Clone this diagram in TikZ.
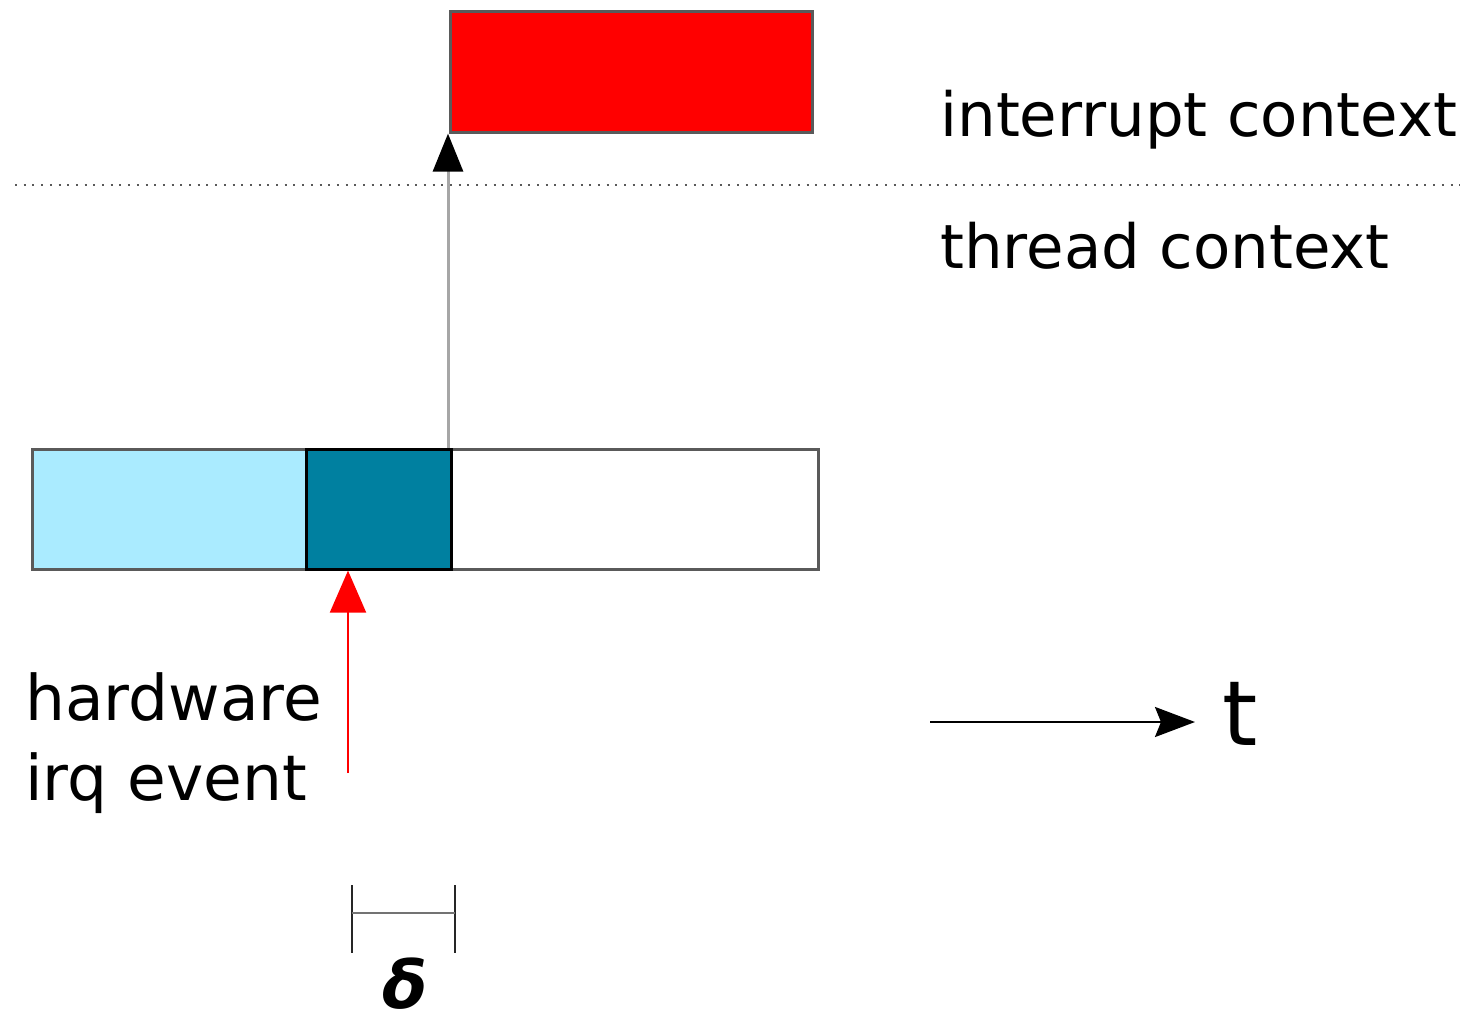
\documentclass[tikz,border=0pt]{standalone}
\usepackage{fontspec}
\setmainfont{DejaVu Sans}
\usetikzlibrary{arrows.meta}
\definecolor{irqred}{RGB}{255,0,0}
\definecolor{runblue}{RGB}{170,235,255}
\definecolor{delayteal}{RGB}{0,128,160}
\definecolor{edgegray}{RGB}{90,90,90}
\tikzset{
  block/.style={draw=edgegray, line width=1.3pt, anchor=north west, inner sep=0pt},
  label/.style={anchor=base west, inner sep=0pt, font=\fontsize{30.5}{36}\selectfont},
  hwlabel/.style={anchor=base west, inner sep=0pt, font=\fontsize{31.5}{36}\selectfont},
}
\begin{document}
\begin{tikzpicture}[x=0.5pt, y=-0.5pt]
\useasboundingbox (0,0) rectangle (1468,1022);

% handler running in interrupt context
\node[block, fill=irqred, minimum width=181pt, minimum height=60.5pt] (isr) at (449,10) {};

% boundary between the two contexts
\draw[line width=1pt, black!65, dash pattern=on 1pt off 3.35pt] (15,185) -- (1460,185);
\node[label] (ictx) at (940,137) {interrupt context};
\node[label] (tctx) at (940,268) {thread context};

% thread timeline
\node[block, fill=runblue, minimum width=137pt, minimum height=60pt] (run) at (31,448) {};
\node[block, fill=white, minimum width=183.5pt, minimum height=60pt] (idle) at (450,448) {};
\node[block, draw=black, fill=delayteal, minimum width=72.5pt, minimum height=60pt] (delay) at (305,448) {};

% entry into the interrupt handler
\coordinate (switch) at (448,448);
\draw[line width=1.5pt, gray!70, -{Triangle[length=19pt, width=15pt, color=black]}]
  (switch) -- (switch |- isr.south);

% hardware event
\node[hwlabel] (hw) at (25,720) {hardware};
\node[hwlabel] (irq) at (25,800) {irq event};
\coordinate (evt) at (348,773);
\draw[line width=1pt, irqred, -{Triangle[length=21pt, width=18pt]}]
  (evt) -- (evt |- delay.south);

% time axis
\coordinate (t0) at (930,722);
\node[anchor=base west, inner sep=0pt, font=\fontsize{45}{50}\selectfont] (tlab) at (1222,745) {t};
\draw[line width=1.2pt, -{Stealth[length=20pt, width=15pt, inset=3pt]}] (t0) -- (1195,722) coordinate (t1);

% latency marker
\coordinate (dl) at (352,913);
\coordinate (dr) at (455,913);
\draw[line width=1.3pt, black!85] (352,885) -- (352,953) (455,885) -- (455,953);
\draw[line width=1.3pt, black!55] (dl) -- (dr);
\node[anchor=base, inner sep=0pt, font=\fontsize{33}{40}\selectfont\bfseries\itshape] (delta) at (405,1008) {δ};
\end{tikzpicture}
\end{document}
